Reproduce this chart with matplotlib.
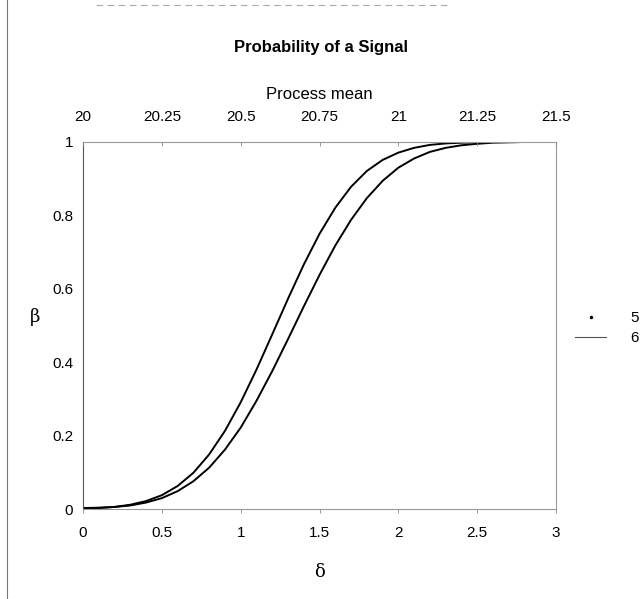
import matplotlib
matplotlib.use("Agg")
import matplotlib.pyplot as plt
from matplotlib.lines import Line2D

plt.rcParams["font.family"] = ["Liberation Sans", "DejaVu Sans"]

# shift in standard deviations
delta = [0.0, 0.1, 0.2, 0.3, 0.4, 0.5, 0.6, 0.7, 0.8, 0.9, 1.0,
         1.1, 1.2, 1.3, 1.4, 1.5, 1.6, 1.7, 1.8, 1.9, 2.0,
         2.1, 2.2, 2.3, 2.4, 2.5, 2.6, 2.7, 2.8, 2.9, 3.0]
# probability of a signal, sample size 5
beta_n5 = [0.003, 0.003, 0.006, 0.010, 0.018, 0.030, 0.049, 0.076, 0.113, 0.162, 0.222,
           0.295, 0.376, 0.463, 0.552, 0.638, 0.718, 0.788, 0.847, 0.894, 0.930,
           0.955, 0.973, 0.984, 0.991, 0.995, 0.998, 0.999, 1.0, 1.0, 1.0]
# probability of a signal, sample size 6
beta_n6 = [0.003, 0.004, 0.006, 0.012, 0.022, 0.038, 0.063, 0.099, 0.149, 0.213, 0.291,
           0.380, 0.476, 0.573, 0.666, 0.750, 0.821, 0.878, 0.921, 0.951, 0.971,
           0.984, 0.992, 0.996, 0.998, 0.999, 1.0, 1.0, 1.0, 1.0, 1.0]

x_ticks = [0, 0.5, 1, 1.5, 2, 2.5, 3]
x_labels = ["0", "0.5", "1", "1.5", "2", "2.5", "3"]
y_ticks = [0, 0.2, 0.4, 0.6, 0.8, 1]
y_labels = ["0", "0.2", "0.4", "0.6", "0.8", "1"]
mean_ticks = [20, 20.25, 20.5, 20.75, 21, 21.25, 21.5]
mean_labels = ["20", "20.25", "20.5", "20.75", "21", "21.25", "21.5"]

fig = plt.figure(figsize=(6.41, 5.99), dpi=100)
ax = fig.add_axes([0.1295, 0.150, 0.738, 0.613])

ax.plot(delta, beta_n5, color="black", linewidth=1.4)
ax.plot(delta, beta_n6, color="black", linewidth=1.4)

ax.set_xlim(0, 3)
ax.set_ylim(0, 1)
ax.set_xticks(x_ticks)
ax.set_xticklabels(x_labels, fontsize=11)
ax.set_yticks(y_ticks)
ax.set_yticklabels(y_labels, fontsize=11)
ax.tick_params(axis="x", direction="out", length=3, width=0.6, color="#888888", pad=9)
ax.tick_params(axis="y", length=0, pad=7)
for side in ["left", "right", "top", "bottom"]:
    ax.spines[side].set_color("#999999")
    ax.spines[side].set_linewidth(0.8)
ax.spines["left"].set_color("#555555")

ax.set_xlabel("δ", fontsize=13, labelpad=17, family=["DejaVu Serif"])
ax.set_ylabel("β", fontsize=13, rotation=0, labelpad=12, family=["DejaVu Serif"])

top = ax.twiny()
top.set_xlim(20, 21.5)
top.set_xticks(mean_ticks)
top.set_xticklabels(mean_labels, fontsize=11)
top.tick_params(axis="x", direction="in", length=3, width=0.6, color="#888888", pad=13)
top.set_xlabel("Process mean", fontsize=12, labelpad=8)
for side in ["left", "right", "top", "bottom"]:
    top.spines[side].set_visible(False)

fig.text(0.5, 0.920, "Probability of a Signal", ha="center", va="center",
         fontsize=12, fontweight="bold")

handles = [
    Line2D([], [], color="black", marker=".", markersize=3, linestyle="none"),
    Line2D([], [], color="#555555", linewidth=0.8),
]
leg = fig.legend(handles, ["5", "6"], loc="center left",
                 bbox_to_anchor=(0.893, 0.452), frameon=False, fontsize=11,
                 handlelength=2.0, labelspacing=0.4, handletextpad=1.6,
                 borderpad=0.2, borderaxespad=0.0)

# outer chart border (left and top edges visible in the scan)
fig.add_artist(Line2D([0.011, 0.011], [0.0, 1.0], color="#777777", linewidth=0.8,
                      transform=fig.transFigure))
fig.add_artist(Line2D([0.15, 0.70], [0.991, 0.991], color="#aaaaaa", linewidth=0.8,
                      linestyle=(0, (6, 4)), transform=fig.transFigure))

fig.savefig("out.png", dpi=100)
